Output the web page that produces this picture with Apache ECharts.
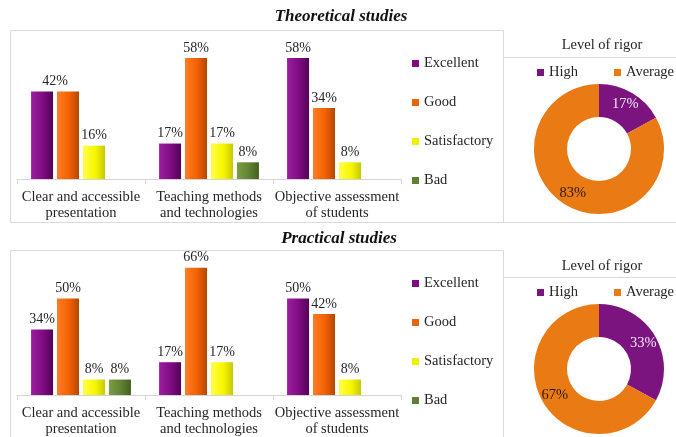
<!DOCTYPE html>
<html>
<head>
<meta charset="utf-8">
<script src="https://cdn.jsdelivr.net/npm/echarts@6/dist/echarts.min.js"></script>
<style>
  html, body { margin: 0; padding: 0; background: #ffffff; }
  #chart { width: 676px; height: 437px; }
</style>
</head>
<body>
<div id="chart"></div>
<script>
// Evaluation criteria shown along the category axis
const criteria = [
  'Clear and accessible\npresentation',
  'Teaching methods\nand technologies',
  'Objective assessment\nof students'
];
const grades = ['Excellent', 'Good', 'Satisfactory', 'Bad'];

// Theoretical studies, % of answers per grade
const theoryExcellent = [42, 17, 58];
const theoryGood = [42, 58, 34];
const theorySatisfactory = [16, 17, 8];
const theoryBad = [null, 8, null];

// Practical studies, % of answers per grade
const practiceExcellent = [34, 17, 50];
const practiceGood = [50, 66, 42];
const practiceSatisfactory = [8, 17, 8];
const practiceBad = [8, null, null];

// Level of rigor donuts
const rigorLevels = ['High', 'Average'];
const theoryRigor = [17, 83];
const practiceRigor = [33, 67];

const serif = '"Liberation Serif", "DejaVu Serif", serif';
const textDark = '#262626';

function hGrad(stops) {
  return new echarts.graphic.LinearGradient(0, 0, 1, 0, [
    { offset: 0, color: stops[0] },
    { offset: 0.55, color: stops[1] },
    { offset: 1, color: stops[2] }
  ]);
}
const gradeColors = [
  hGrad(['#9C1FA0', '#800A84', '#520556']),
  hGrad(['#FF7C22', '#F26203', '#B24700']),
  hGrad(['#FFFF4A', '#F7F700', '#C9C900']),
  hGrad(['#7C9C44', '#618232', '#41601E'])
];
const legendColors = ['#800A84', '#E8640A', '#F0F000', '#5F8030'];
const pieColors = ['#7C1480', '#E97A14'];

function barSeries(values, gradeIdx, gridIdx, labelOverrides) {
  return {
    type: 'bar',
    name: grades[gradeIdx],
    xAxisIndex: gridIdx,
    yAxisIndex: gridIdx,
    barWidth: 22,
    barGap: '18%',
    itemStyle: { color: gradeColors[gradeIdx] },
    label: {
      show: true,
      position: 'top',
      distance: 3,
      formatter: '{c}%',
      fontFamily: serif,
      fontSize: 14,
      color: textDark
    },
    data: values.map((v, i) => {
      const item = { value: v == null ? '-' : v };
      if (labelOverrides && labelOverrides[i]) item.label = labelOverrides[i];
      return item;
    })
  };
}

function xAxis(gridIdx) {
  return {
    type: 'category',
    gridIndex: gridIdx,
    data: criteria,
    axisLine: { lineStyle: { color: '#D4D4D4', width: 1 } },
    axisTick: { show: true, length: 5, lineStyle: { color: '#D4D4D4' } },
    axisLabel: {
      fontFamily: serif,
      fontSize: 14.5,
      color: textDark,
      lineHeight: 16,
      margin: 10,
      interval: 0
    }
  };
}
function yAxis(gridIdx) {
  return {
    type: 'value',
    gridIndex: gridIdx,
    min: 0,
    max: 70,
    show: false,
    splitLine: { show: false }
  };
}

function pieSeries(values, center) {
  return {
    type: 'pie',
    radius: [32, 65],
    center: center,
    startAngle: 90,
    clockwise: true,
    avoidLabelOverlap: false,
    label: {
      show: true,
      position: 'inside',
      formatter: '{c}%',
      fontFamily: serif,
      fontSize: 14.5
    },
    labelLine: { show: false },
    emphasis: { scale: false },
    data: values.map((v, i) => ({
      value: v,
      name: rigorLevels[i],
      itemStyle: { color: pieColors[i] },
      label: { color: i === 0 ? '#F4E8F6' : '#2a1a0a' }
    }))
  };
}

const barLegendBase = {
  orient: 'vertical',
  left: 407,
  icon: 'rect',
  itemWidth: 7,
  itemHeight: 7,
  itemGap: 24,
  textStyle: { fontFamily: serif, fontSize: 14.5, color: textDark, lineHeight: 14 },
  data: grades.map((g, i) => ({ name: g, itemStyle: { color: legendColors[i] } }))
};
const pieLegendBase = {
  orient: 'horizontal',
  left: 532,
  width: 300,
  icon: 'rect',
  itemWidth: 7,
  itemHeight: 7,
  itemGap: 36,
  textStyle: { fontFamily: serif, fontSize: 14.5, color: textDark },
  data: rigorLevels.map((g, i) => ({ name: g, itemStyle: { color: pieColors[i] } }))
};

// The two equal 42% bars of the first criterion share one centred label
const sharedLabelLeft = [{ offset: [13, 0] }, null, null];
const sharedLabelHidden = [{ show: false }, null, null];

const option = {
  backgroundColor: '#ffffff',
  animation: false,
  grid: [
    { left: 17, right: 275, top: 33, bottom: 258 },
    { left: 17, right: 275, top: 260, bottom: 39 }
  ],
  xAxis: [xAxis(0), xAxis(1)],
  yAxis: [yAxis(0), yAxis(1)],
  legend: [
    Object.assign({}, barLegendBase, { top: 51 }),
    Object.assign({}, barLegendBase, { top: 271 }),
    Object.assign({}, pieLegendBase, { top: 60 }),
    Object.assign({}, pieLegendBase, { top: 280 })
  ],
  series: [
    barSeries(theoryExcellent, 0, 0, sharedLabelLeft),
    barSeries(theoryGood, 1, 0, sharedLabelHidden),
    barSeries(theorySatisfactory, 2, 0),
    barSeries(theoryBad, 3, 0),
    barSeries(practiceExcellent, 0, 1),
    barSeries(practiceGood, 1, 1),
    barSeries(practiceSatisfactory, 2, 1),
    barSeries(practiceBad, 3, 1),
    pieSeries(theoryRigor, [599, 149]),
    pieSeries(practiceRigor, [599, 369])
  ],
  graphic: [
    // panel frames
    { type: 'rect', silent: true, shape: { x: 10.5, y: 30.5, width: 493, height: 192 },
      style: { fill: null, stroke: '#DADADA', lineWidth: 1 } },
    { type: 'polyline', silent: true, shape: { points: [[676, 57.5], [503.5, 57.5], [503.5, 222.5], [676, 222.5]] },
      style: { fill: null, stroke: '#DADADA', lineWidth: 1 } },
    { type: 'rect', silent: true, shape: { x: 10.5, y: 250.5, width: 493, height: 200 },
      style: { fill: null, stroke: '#DADADA', lineWidth: 1 } },
    { type: 'polyline', silent: true, shape: { points: [[676, 277.5], [503.5, 277.5]] },
      style: { fill: null, stroke: '#DADADA', lineWidth: 1 } },
    // headings
    { type: 'text', silent: true, x: 341, y: 17,
      style: { text: 'Theoretical studies', font: 'italic bold 17px ' + serif, fill: '#111',
        textAlign: 'center', textVerticalAlign: 'middle' } },
    { type: 'text', silent: true, x: 339, y: 239,
      style: { text: 'Practical studies', font: 'italic bold 17px ' + serif, fill: '#111',
        textAlign: 'center', textVerticalAlign: 'middle' } },
    { type: 'text', silent: true, x: 602, y: 45,
      style: { text: 'Level of rigor', font: '14.5px ' + serif, fill: textDark,
        textAlign: 'center', textVerticalAlign: 'middle' } },
    { type: 'text', silent: true, x: 602, y: 266,
      style: { text: 'Level of rigor', font: '14.5px ' + serif, fill: textDark,
        textAlign: 'center', textVerticalAlign: 'middle' } }
  ]
};

const chart = echarts.init(document.getElementById('chart'), null, { renderer: 'canvas' });
chart.setOption(option);
</script>
</body>
</html>
